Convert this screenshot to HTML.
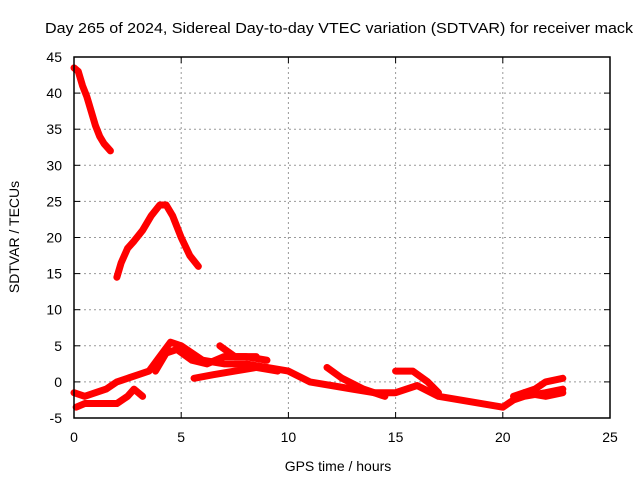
<!DOCTYPE html>
<html><head><meta charset="utf-8"><style>
body{margin:0;background:#fff}
svg{display:block;font-family:"Liberation Sans",sans-serif}
</style></head><body>
<svg width="640" height="480" xmlns="http://www.w3.org/2000/svg">
<rect width="640" height="480" fill="#fff"/>
<text x="339" y="33" text-anchor="middle" font-size="15" textLength="588" lengthAdjust="spacingAndGlyphs">Day 265 of 2024, Sidereal Day-to-day VTEC variation (SDTVAR) for receiver mack</text>
<text x="338" y="471" text-anchor="middle" font-size="14">GPS time / hours</text>
<text transform="translate(19,237) rotate(-90)" text-anchor="middle" font-size="14">SDTVAR / TECUs</text>
<g id="grid"></g>
<g id="series"></g>
<rect x="74" y="57" width="536" height="361" fill="none" stroke="#000" stroke-width="1.5"/>
<g id="ticks"></g>
</svg>
<script>
const xTicks=[0,5,10,15,20,25];
const yTicks=[-5,0,5,10,15,20,25,30,35,40,45];
const segA=[[0,43.5],[0.2,43],[0.4,41],[0.6,39.5],[0.8,37.5],[1.0,35.5],[1.2,34],[1.4,33],[1.7,32]];
const segB=[[2.0,14.5],[2.2,16.5],[2.5,18.5],[2.8,19.5],[3.2,21],[3.6,23],[4.0,24.5],[4.3,24.5],[4.6,23],[5.0,20],[5.4,17.5],[5.8,16]];
const segC=[[0,-1.5],[0.5,-2],[1,-1.5],[1.5,-1],[2,0],[2.5,0.5],[3,1],[3.5,1.5],[4,3.5],[4.5,5.5],[5,5],[5.5,4],[6,3],[7,2.5],[8,2.5],[9,2],[10,1.5],[11,0],[12,-0.5],[13,-1],[14,-1.5],[15,-1.5],[16,-0.5],[17,-2],[18,-2.5],[19,-3],[20,-3.5],[20.5,-2.5],[21,-2],[22,-1.5],[22.8,-1]];
const segD=[[0.1,-3.5],[0.5,-3],[1,-3],[1.5,-3],[2,-3],[2.5,-2],[2.8,-1],[3.2,-2]];
const segE=[[3.8,1.5],[4.3,4],[4.8,4.5],[5.5,3],[6.2,2.5],[7,3.5],[8,3.5],[9,3]];
const segF=[[5.6,0.5],[6.5,1],[7.5,1.5],[8.5,2],[9.5,1.5]];
const segG=[[6.8,5],[7.5,3.5],[8.5,3.5]];
const segH=[[11.8,2],[12.5,0.5],[13.5,-1],[14.5,-2]];
const segI=[[15,1.5],[15.8,1.5],[16.5,0],[17,-1.5]];
const segJ=[[20.5,-2],[21.5,-1],[22,0],[22.8,0.5]];
const segK=[[21,-1.5],[22,-2],[22.8,-1.5]];
const series=[segA,segB,segC,segD,segE,segF,segG,segH,segI,segJ,segK];
const X=v=>74+v*(536/25), Y=v=>418-(v+5)*(361/50);
const NS='http://www.w3.org/2000/svg';
const grid=document.getElementById('grid'),ticks=document.getElementById('ticks'),sg=document.getElementById('series');
function mk(tag,at,p){const e=document.createElementNS(NS,tag);for(const k in at)e.setAttribute(k,at[k]);p.appendChild(e);return e;}
xTicks.forEach(t=>{
 if(t>0&&t<25){const g=mk('line',{x1:X(t),x2:X(t),y1:57,y2:418,stroke:'#999','stroke-dasharray':'2,3'},grid);
 
 }
 const tx=mk('text',{x:X(t),y:442,'text-anchor':'middle','font-size':14},ticks);tx.textContent=t;
 
 
 mk('line',{x1:X(t),x2:X(t),y1:418,y2:412,stroke:'#000'},ticks);
 mk('line',{x1:X(t),x2:X(t),y1:57,y2:63,stroke:'#000'},ticks);
});
yTicks.forEach(t=>{
 if(t>-5&&t<45){const g=mk('line',{x1:74,x2:610,y1:Y(t),y2:Y(t),stroke:'#999','stroke-dasharray':'2,3'},grid);
 
 }
 const tx=mk('text',{x:62,y:Y(t)+5,'text-anchor':'end','font-size':14},ticks);tx.textContent=t;
 
 
 mk('line',{x1:74,x2:80,y1:Y(t),y2:Y(t),stroke:'#000'},ticks);
 mk('line',{x1:610,x2:604,y1:Y(t),y2:Y(t),stroke:'#000'},ticks);
});
series.forEach(s=>{
 const p=mk('polyline',{points:s.map(d=>X(d[0])+','+Y(d[1])).join(' '),fill:'none',stroke:'#f00','stroke-width':7,'stroke-linejoin':'round','stroke-linecap':'round'},sg);
 
 
});
</script>
</body></html>
